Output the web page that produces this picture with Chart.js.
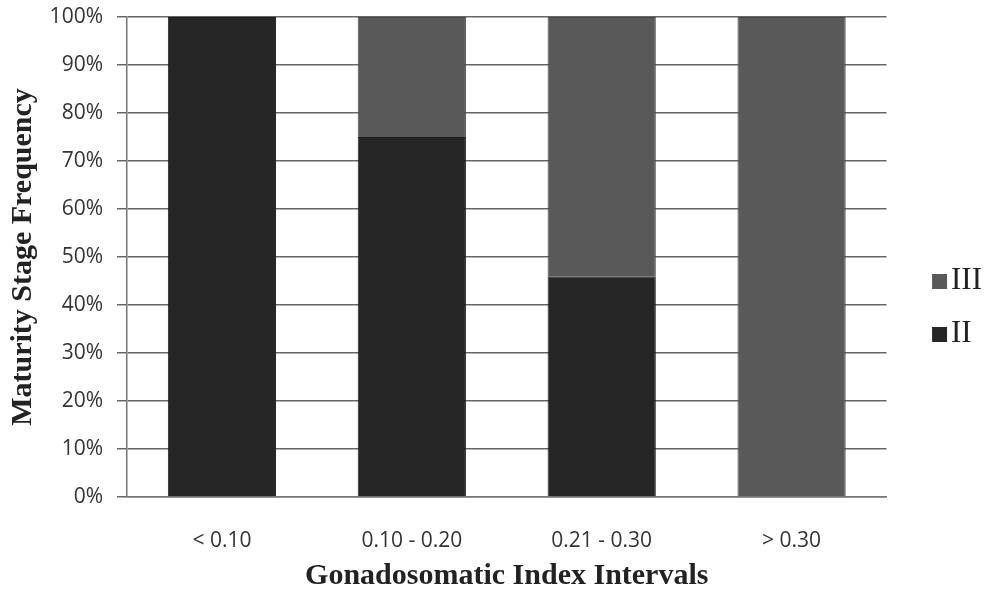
<!DOCTYPE html>
<html>
<head>
<meta charset="utf-8">
<script src="https://cdn.jsdelivr.net/npm/chart.js@4"></script>
<style>
  body { margin: 0; background: #fff; }
  #box { width: 992px; height: 591px; }
</style>
</head>
<body>
<div id="box"><canvas id="grafico"></canvas></div>
<script>
// categorias e frequencias (%)
const categorias = ["< 0.10", "0.10 - 0.20", "0.21 - 0.30", "> 0.30"];
const estagioII = [100, 75, 46, 0];
const estagioIII = [0, 25, 54, 100];
const coresEstagio = { II: "#262626", III: "#595959" };

// quadradinho da legenda colado no texto (imagem com lado esquerdo vazio)
function quadradoLegenda(cor){
    let c = document.createElement("canvas");
    c.width = 46;
    c.height = 15;
    let g = c.getContext("2d");
    g.fillStyle = cor;
    g.fillRect(27, 0, 15, 15);
    return c;
}

const ctx = document.getElementById("grafico");

const grafico = new Chart(ctx, {
    type: "bar",
    data: {
        labels: categorias,
        datasets: [
            {
                label: "II",
                data: estagioII,
                backgroundColor: coresEstagio.II,
                borderColor: "#1e1e1e",
                borderWidth: 1,
                barPercentage: 0.57,
                categoryPercentage: 1,
                pointStyle: quadradoLegenda(coresEstagio.II)
            },
            {
                label: "III",
                data: estagioIII,
                backgroundColor: coresEstagio.III,
                borderColor: "#4a4a4a",
                borderWidth: 1,
                barPercentage: 0.57,
                categoryPercentage: 1,
                pointStyle: quadradoLegenda(coresEstagio.III)
            }
        ]
    },
    options: {
        responsive: true,
        maintainAspectRatio: false,
        animation: false,
        layout: { padding: { top: 0, right: 0, left: 0, bottom: 0 } },
        plugins: {
            legend: {
                position: "right",
                reverse: true,
                title: { display: true, text: "", padding: 0, font: { size: 20 } },
                labels: {
                    usePointStyle: true,
                    boxWidth: 15,
                    boxHeight: 15,
                    padding: 22,
                    color: "#222",
                    font: { family: "Liberation Serif", size: 31 }
                }
            },
            tooltip: { enabled: false }
        },
        scales: {
            x: {
                stacked: true,
                afterFit: function(s){ s.height = 94; },
                grid: { display: false, tickLength: 0 },
                border: { display: true, color: "#777", width: 1.5 },
                ticks: {
                    color: "#333",
                    padding: 31,
                    font: { family: "Open Sans", size: 21 }
                },
                title: {
                    display: true,
                    text: "Gonadosomatic Index Intervals",
                    color: "#222",
                    padding: { top: 0, bottom: -3 },
                    font: { family: "Liberation Serif", size: 30, weight: "bold" }
                }
            },
            y: {
                stacked: true,
                min: 0,
                max: 100,
                afterFit: function(s){
                    s.width = 127;
                    s.paddingTop = 17;
                    s.paddingBottom = 0;
                },
                grid: { color: "#666", lineWidth: 1.5, tickLength: 10 },
                border: { display: true, color: "#777", width: 1.5 },
                ticks: {
                    stepSize: 10,
                    color: "#333",
                    padding: 14,
                    font: { family: "Open Sans", size: 21 },
                    callback: function(v) { return v + "%"; }
                },
                title: {
                    display: true,
                    text: "Maturity Stage Frequency",
                    color: "#222",
                    padding: { top: 5, bottom: 0 },
                    font: { family: "Liberation Serif", size: 30, weight: "bold" }
                }
            },
            // espaco vazio entre o grafico e a legenda
            espaco: {
                position: "right",
                afterFit: function(s){ s.width = 12; },
                grid: { display: false },
                border: { display: false },
                ticks: { display: false }
            }
        }
    }
});
</script>
</body>
</html>
